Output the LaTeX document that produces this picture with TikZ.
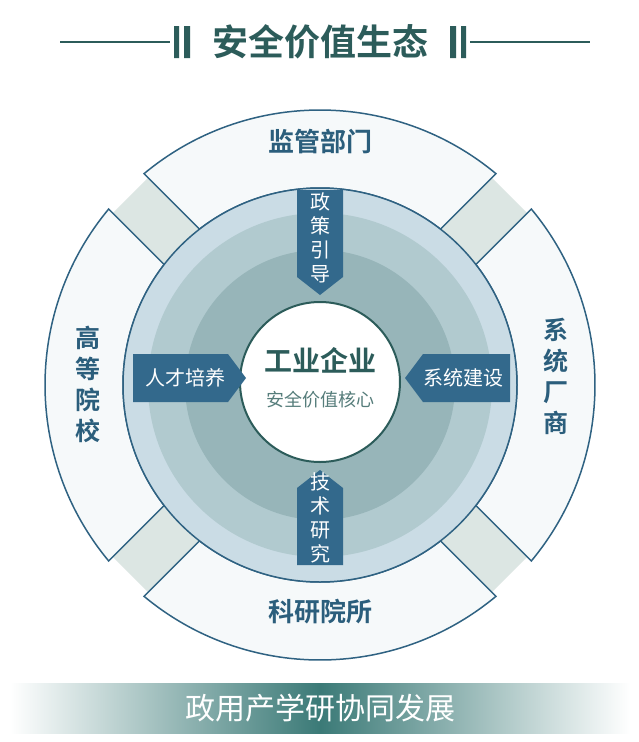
\documentclass[tikz,border=0pt]{standalone}
\usepackage{fontspec}
\setmainfont{Noto Sans CJK SC}
\newfontfamily\cjkbold{Noto Sans CJK SC Bold}
\begin{document}
\begin{tikzpicture}[x=1pt,y=-1pt,
  seg/.style={draw=segline,line width=1.5pt,fill=segfill},
  segtxt/.style={text=segtext,font=\cjkbold\fontsize{26}{28}\selectfont,align=center},
  arr/.style={fill=arrfill},
  arrtxt/.style={text=white,font=\fontsize{20}{24}\selectfont,align=center,inner sep=0pt}]
\definecolor{segline}{HTML}{2F6282}
\definecolor{segfill}{HTML}{F6F9FA}
\definecolor{segtext}{HTML}{2B5E7C}
\definecolor{arrfill}{HTML}{33698C}
\definecolor{band}{HTML}{DCE6E3}
\definecolor{c1}{HTML}{CADCE5}
\definecolor{c2}{HTML}{B1CACF}
\definecolor{c3}{HTML}{97B5B9}
\definecolor{teal}{HTML}{2C5C5A}
\definecolor{banner}{HTML}{3B7A77}
\useasboundingbox (0,0) rectangle (638,742);
\fill[white] (0,0) rectangle (638,742);
% title
\draw[teal,line width=1.5pt] (60,42) -- (170,42) (470,42) -- (590,42);
\fill[teal] (174,26) rectangle (179,58) (184,26) rectangle (190,58);
\fill[teal] (450,26) rectangle (456,58) (461,26) rectangle (466,58);
\node[text=teal,font=\cjkbold\fontsize{36}{38}\selectfont] (title) at (320,42) {安全价值生态};
% ring
\begin{scope}[shift={(320,385)},yscale=-1]
  \foreach \a in {45,135,225,315}
    \fill[band,rotate=\a] (150,-25) rectangle (268,25);
  \foreach \c in {0,90,180,270}
    \draw[seg] (\c-45+5.22:275) arc[start angle=\c-45+5.22,end angle=\c+45-5.22,radius=275]
      -- (\c+45-7.29:197) arc[start angle=\c+45-7.29,end angle=\c-45+7.29,radius=197] -- cycle;
  \draw[segline,line width=1.5pt,fill=c1] (0,0) circle (197);
  \fill[c2] (0,0) circle (172);
  \fill[c3] (0,0) circle (135);
\end{scope}
\draw[teal,line width=2pt,fill=white] (320,382) circle (80);
\node[text=teal,font=\cjkbold\fontsize{28}{30}\selectfont] (core) at (320,360) {工业企业};
\node[text=teal!80,font=\fontsize{18}{20}\selectfont] (coresub) at (320,400) {安全价值核心};
% segment labels
\node[segtxt] (t) at (320,142) {监管部门};
\node[segtxt] (b) at (320,612) {科研院所};
\node[segtxt,font=\cjkbold\fontsize{25}{31}\selectfont] (l) at (88,384) {高\\等\\院\\校};
\node[segtxt,font=\cjkbold\fontsize{25}{31}\selectfont] (r) at (556,376) {系\\统\\厂\\商};
% arrows
\fill[arr] (297,190) -- (343,190) -- (343,277) -- (320,295) -- (297,277) -- cycle;
\fill[arr] (297,565) -- (343,565) -- (343,488) -- (320,470) -- (297,488) -- cycle;
\fill[arr] (133,354) -- (228,354) -- (246,378) -- (228,402) -- (133,402) -- cycle;
\fill[arr] (510,354) -- (423,354) -- (405,378) -- (423,402) -- (510,402) -- cycle;
\node[arrtxt] (a1) at (320,238) {政\\策\\引\\导};
\node[arrtxt] (a2) at (320,518) {技\\术\\研\\究};
\node[arrtxt] (a3) at (185,378) {人才培养};
\node[arrtxt] (a4) at (463,378) {系统建设};
% banner
\shade[left color=white,right color=banner] (10,683) rectangle (320,733);
\shade[left color=banner,right color=white] (320,683) rectangle (630,733);
\node[text=white,font=\fontsize{30}{32}\selectfont] (ban) at (320,708) {政用产学研协同发展};
\end{tikzpicture}
\end{document}
